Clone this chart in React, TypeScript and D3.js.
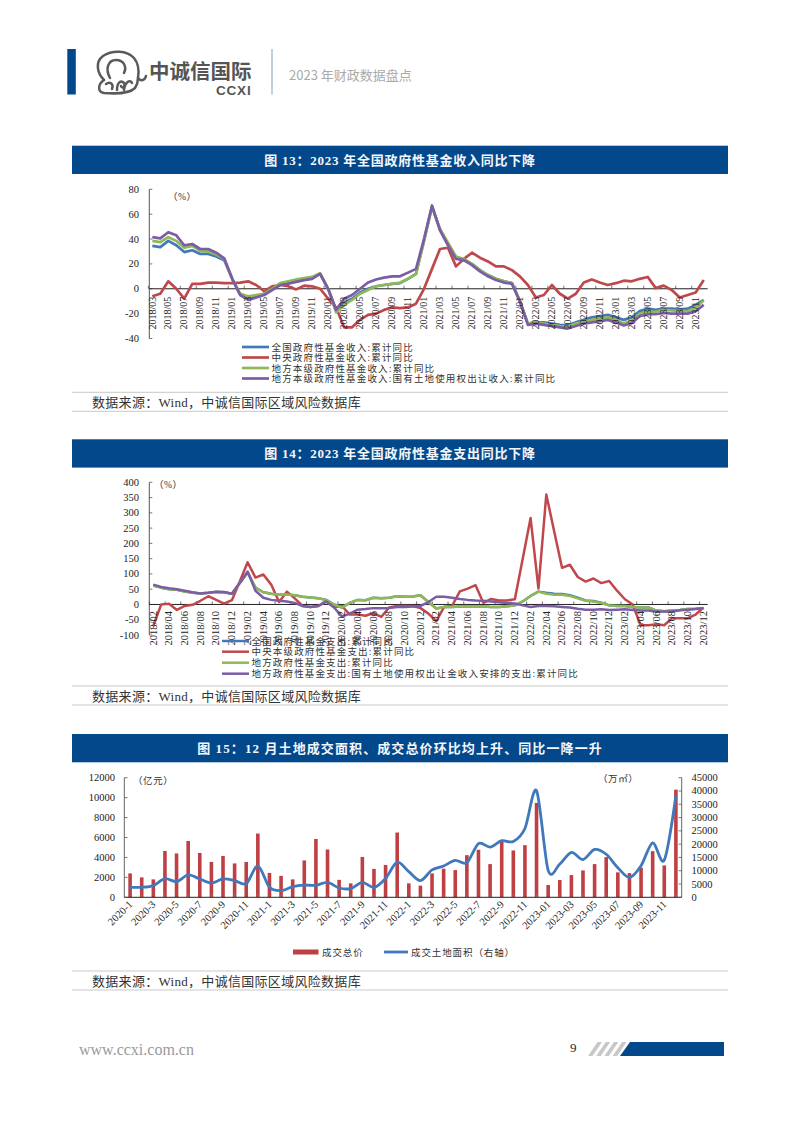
import React from "react";
import * as d3 from "d3";

const months = (sy: number, sm: number, ey: number, em: number, pad = true) => {
  const out: string[] = [];
  for (let y = sy, m = sm; y < ey || (y === ey && m <= em); m === 12 ? (y++, (m = 1)) : m++) {
    out.push(`${y}/${pad && m < 10 ? "0" + m : m}`);
  }
  return out;
};

const c1Cats = months(2018, 3, 2023, 12);
const c1Blue = [
  34.5, 33.5, 38.5, 35, 29.5, 31, 28, 28, 26, 23,
  8, -5, -7, -6, -4, 0, 4, 5, 6.5, 7.5, 9, 12,
  0, -17, -11, -8, -3, 0, 2, 3, 4, 4.5, 8, 12,
  39, 66, 48, 36, 25, 23, 20, 15, 11, 8, 6, 4.5,
  -10, -28, -27, -27, -28, -29, -29.5, -27, -25, -23, -22, -21,
  -23, -25, -23, -18, -16, -17, -16, -16, -16.5, -16, -13, -9,
];
const c1Red = [
  -6, -4, 6, 0, -8, 4, 4, 5, 5, 4.5,
  4.5, 5, 6, 3, -2, 2, 3, 2, -0.5, 2.5, 2, 0,
  -8, -15, -31, -31, -25, -21, -20, -17, -15, -15.5, -15, -12,
  0, 16, 32, 33, 18, 24, 29, 25, 22, 18, 18, 15,
  10, 3, -7, -5, 3, -4, -8, -4, 5, 7.5, 5, 3,
  4.5, 6.5, 6, 8, 9.5, 0.5, 2.5, -1, -7, -5, -3, 7,
];
const c1Green = [
  38.5, 37.5, 41.5, 38.5, 33, 34.5, 30.5, 30, 27.5, 24,
  8, -4, -6, -5, -4, 0, 4.5, 6, 7.5, 8.5, 9.5, 12.5,
  0, -19, -13, -9, -4, -1, 2, 3, 4, 5, 8, 12,
  38, 66, 48, 37, 26, 24, 20, 15, 11, 8, 6, 4.5,
  -10, -28, -27, -28, -29, -30, -30.5, -28, -26.5, -25, -24, -23,
  -25, -28, -25.5, -20, -18.5, -18.5, -17, -17.5, -18, -18, -15, -9.5,
];
const c1Purple = [
  41.5, 40.5, 45.5, 43, 35, 36, 32, 32, 29, 24.5,
  8, -5, -9, -7, -5, -1, 3, 4, 5.5, 7, 8, 12,
  0, -17, -8, -5, 0, 5, 7.5, 9, 10, 10, 13, 16,
  40, 67, 47, 35, 24, 23, 19, 14, 10, 7, 5, 4,
  -10, -29, -28, -29, -30, -31, -32, -30, -28, -27, -26, -25,
  -27, -29.5, -27.5, -22, -20.5, -20.5, -19.5, -20, -20, -20, -18, -13,
];
const c1YTicks = [-40, -20, 0, 20, 40, 60, 80];
const c1Legend = [
  "全国政府性基金收入:累计同比",
  "中央政府性基金收入:累计同比",
  "地方本级政府性基金收入:累计同比",
  "地方本级政府性基金收入:国有土地使用权出让收入:累计同比",
];

const c2Cats = months(2018, 2, 2023, 12);
const c2Blue = [
  62, 55, 50, 48, 42, 38, 36, 38, 41, 40, 35,
  70, 105, 55, 40, 35, 32, 33, 30, 25, 23, 20, 15,
  0, -10, 5, 15, 14, 22, 20, 22, 27, 25, 26, 30,
  8, -13, -8, -8, -7, -7, -7, -7, -8, -8, -6, -3,
  10, 28, 42, 38, 35, 34, 30, 22, 13, 11, 6, -3,
  -5, -5, -8, -10, -10, -20, -22, -20, -18, -15, -14, -12,
];
const c2Red = [
  -70, 0, 2, -18, -5, -1, 12, 27, 15, 3, 14,
  75, 138, 88, 98, 65, 8, 42, 20, -5, -8, -5, 10,
  -8, -5, -33, -33, -37, -28, -41, -10, -5, -5, -5, -12,
  -30, -55, -8, -5, 43, 52, 63, 5, 18, 13, 13, 17,
  150, 283, 52, 360, 240, 120, 130, 90, 75, 85, 70, 77,
  45, 17, 0, -68, -68, -65, -68, -45, -45, -45, -33, -10,
];
const c2Green = [
  62, 55, 50, 48, 42, 38, 36, 38, 41, 40, 35,
  70, 105, 55, 40, 35, 32, 33, 30, 25, 23, 20, 15,
  0, -10, 5, 15, 14, 22, 20, 22, 27, 25, 26, 30,
  8, -13, -8, -8, -7, -7, -7, -7, -8, -8, -6, -3,
  10, 28, 42, 35, 32, 32, 28, 20, 12, 10, 5, -3,
  -5, -5, -8, -10, -10, -20, -22, -20, -18, -15, -14, -12,
];
const c2Purple = [
  65, 57, 53, 50, 45, 40, 36, 38, 42, 41, 35,
  70, 108, 45, 22, 15, 12, 10, 5, -5, -8, -5, 10,
  -10, -40, -30, -17, -15, -12, -12, -12, -8, -8, -7, -5,
  8, 25, 25, 22, 18, 15, 13, 12, 10, 7, 5, 3,
  -3, -8, -5, -5, -6, -8, -10, -14, -17, -17, -16, -18,
  -17, -16, -18, -20, -20, -24, -23, -23, -19, -17, -15, -12,
];
const c2YTicks = [-100, -50, 0, 50, 100, 150, 200, 250, 300, 350, 400];
const c2Legend = [
  "全国政府性基金支出:累计同比",
  "中央本级政府性基金支出:累计同比",
  "地方政府性基金支出:累计同比",
  "地方政府性基金支出:国有土地使用权出让金收入安排的支出:累计同比",
];

const c3Cats = [
  ...months(2020, 1, 2022, 12, false).map((s) => s.replace("/", "-")),
  ...months(2023, 1, 2023, 12).map((s) => s.replace("/", "-")),
];
const c3Bars = [
  2400, 2000, 1800, 4650, 4400, 5650, 4450, 3550, 4150, 3400, 3550, 6400,
  2450, 2150, 1800, 3700, 5850, 4800, 1750, 1400, 4050, 2850, 3250, 6500,
  1400, 1170, 2400, 2870, 2730, 4230, 4770, 3330, 5570, 4700, 5230, 9470,
  1230, 1730, 2230, 2700, 3330, 4030, 2500, 2430, 2970, 4630, 3200, 10800,
];
const c3Line = [
  3760, 3760, 4400, 7000, 5900, 8400, 6900, 5400, 6900, 6300, 5100, 11800,
  3760, 2500, 4000, 4600, 4500, 5600, 3500, 3300, 5600, 3760, 7100, 13200,
  9650, 6300, 10300, 11800, 13900, 13000, 20200, 18900, 21300, 21000, 25900, 40100,
  10150, 12500, 16900, 14200, 18000, 16200, 11150, 7500, 11900, 20500, 14000, 38200,
];
const c3LeftTicks = [0, 2000, 4000, 6000, 8000, 10000, 12000];
const c3RightTicks = [0, 5000, 10000, 15000, 20000, 25000, 30000, 35000, 40000, 45000];

const titles = [
  "图 13\uFF1A2023 年全国政府性基金收入同比下降",
  "图 14\uFF1A2023 年全国政府性基金支出同比下降",
  "图 15\uFF1A12 月土地成交面积、成交总价环比均上升、同比一降一升",
];
const sourceText = "数据来源\uFF1AWind\uFF0C中诚信国际区域风险数据库";
const unitPct = "\uFF08%\uFF09";
const unitLeft = "\uFF08亿元\uFF09";
const unitRight = "\uFF08万㎡\uFF09";
const barLegend = "成交总价";
const lineLegend = "成交土地面积\uFF08右轴\uFF09";

const BLUE = "#4279b8";
const RED = "#c0484c";
const GREEN = "#8fb955";
const PURPLE = "#7b5da6";
const NAVY = "#03488a";
const SERIF = "'Liberation Serif','Noto Sans CJK SC',serif";
const SANS = "'Noto Sans CJK SC','Noto Sans',sans-serif";

function LineChart(p: {
  cats: string[];
  series: number[][];
  yTicks: number[];
  yDomain: [number, number];
  yRange: [number, number];
  xRange: [number, number];
  axisX: [number, number];
  labelBottom: number;
  labelSize: number;
  lineWidth: number;
}) {
  const x = d3.scalePoint<string>().domain(p.cats).range(p.xRange);
  const y = d3.scaleLinear().domain(p.yDomain).range(p.yRange);
  const step = x.step();
  const colors = [BLUE, RED, GREEN, PURPLE];
  const line = d3
    .line<number>()
    .x((_, i) => x(p.cats[i]) as number)
    .y((d) => y(d));
  const labelled = p.cats.filter((_, i) => i % 2 === 0);
  return (
    <g>
      <line x1={p.axisX[0]} x2={p.axisX[0]} y1={y(p.yDomain[1])} y2={y(p.yDomain[0])} stroke="#555" strokeWidth={1} />
      {p.yTicks.map((t) => (
        <g key={t}>
          <line x1={p.axisX[0]} x2={p.axisX[0] + 3} y1={y(t)} y2={y(t)} stroke="#555" strokeWidth={0.8} />
          <text x={139} y={y(t) + 3.5} textAnchor="end" fontSize={10.5} fontFamily={SERIF} fill="#222">
            {t}
          </text>
        </g>
      ))}
      <line x1={p.axisX[0]} x2={p.axisX[1]} y1={y(0)} y2={y(0)} stroke="#222" strokeWidth={1} />
      {labelled.map((c) => (
        <line key={c} x1={(x(c) as number) - step / 2} x2={(x(c) as number) - step / 2} y1={y(0)} y2={y(0) - 3} stroke="#333" strokeWidth={0.7} />
      ))}
      {p.series.map((s, i) => (
        <path key={i} d={line(s) as string} fill="none" stroke={colors[i]} strokeWidth={p.lineWidth} strokeLinejoin="round" />
      ))}
      {labelled.map((c) => (
        <text
          key={c}
          transform={`translate(${(x(c) as number) + 3.2},${p.labelBottom}) rotate(-90)`}
          fontSize={p.labelSize}
          fontFamily={SERIF}
          fill="#222"
        >
          {c}
        </text>
      ))}
    </g>
  );
}

function Legend(p: { items: string[]; x1: number; x2: number; ys: number[]; lw: number }) {
  const colors = [BLUE, RED, GREEN, PURPLE];
  return (
    <g>
      {p.items.map((t, i) => (
        <g key={t}>
          <line x1={p.x1} x2={p.x2} y1={p.ys[i]} y2={p.ys[i]} stroke={colors[i]} strokeWidth={p.lw} />
          <text x={p.x2 + 2.5} y={p.ys[i] + 3.5} fontSize={9.5} letterSpacing={1.16} fontFamily={SERIF} fill="#333">
            {t}
          </text>
        </g>
      ))}
    </g>
  );
}

function ComboChart() {
  const x = d3.scaleBand<string>().domain(c3Cats).range([124.3, 681.7]);
  const yL = d3.scaleLinear().domain([0, 12000]).range([897.3, 777.7]);
  const yR = d3.scaleLinear().domain([0, 45000]).range([897.3, 777.7]);
  const cx = (i: number) => (x(c3Cats[i]) as number) + x.bandwidth() / 2;
  const line = d3
    .line<number>()
    .x((_, i) => cx(i))
    .y((d) => yR(d))
    .curve(d3.curveCardinal.tension(0.1));
  return (
    <g>
      {c3Bars.map((v, i) => (
        <rect key={i} x={cx(i) - 1.8} width={3.6} y={yL(v)} height={yL(0) - yL(v)} fill="#bf4044" />
      ))}
      <path d={line(c3Line) as string} fill="none" stroke="#3f78bb" strokeWidth={2.8} />
      <line x1={124.3} x2={124.3} y1={777.7} y2={897.3} stroke="#555" strokeWidth={0.9} />
      <line x1={681.7} x2={681.7} y1={777.7} y2={897.3} stroke="#555" strokeWidth={0.9} />
      <line x1={124.3} x2={681.7} y1={897.3} y2={897.3} stroke="#222" strokeWidth={1} />
      {c3LeftTicks.map((t) => (
        <g key={t}>
          <line x1={124.3} x2={127.5} y1={yL(t)} y2={yL(t)} stroke="#555" strokeWidth={0.8} />
          <text x={115} y={yL(t) + 3.5} textAnchor="end" fontSize={10.5} fontFamily={SERIF} fill="#222">
            {t}
          </text>
        </g>
      ))}
      {c3RightTicks.map((t) => (
        <g key={t}>
          <line x1={678.5} x2={681.7} y1={yR(t)} y2={yR(t)} stroke="#555" strokeWidth={0.8} />
          <text x={691.5} y={yR(t) + 3.5} fontSize={10.5} fontFamily={SERIF} fill="#222">
            {t}
          </text>
        </g>
      ))}
      {c3Cats.map((c, i) =>
        i % 2 === 0 ? (
          <g key={c}>
            <line x1={(x(c) as number) + x.bandwidth() * 1.5} x2={(x(c) as number) + x.bandwidth() * 1.5} y1={897.3} y2={894.5} stroke="#888" strokeWidth={0.6} />
            <text
              transform={`translate(${cx(i) + 3},${905}) rotate(-45)`}
              textAnchor="end"
              fontSize={10.5}
              fontFamily={SERIF}
              fill="#222"
            >
              {c}
            </text>
          </g>
        ) : null
      )}
      <rect x={293} y={949.5} width={25.5} height={5} fill="#bf4044" />
      <text x={322} y={955.5} fontSize={9.5} letterSpacing={0.9} fontFamily={SERIF} fill="#333">
        {barLegend}
      </text>
      <line x1={384} x2={408} y1={952} y2={952} stroke="#3f78bb" strokeWidth={2.8} />
      <text x={411} y={955.5} fontSize={9.5} letterSpacing={0.9} fontFamily={SERIF} fill="#333">
        {lineLegend}
      </text>
    </g>
  );
}

function Banner(p: { y: number; text: string; spacing: number }) {
  return (
    <g>
      <rect x={72} y={p.y} width={656} height={28.3} fill={NAVY} />
      <text
        x={400}
        y={p.y + 19}
        textAnchor="middle"
        fontSize={13}
        fontWeight={700}
        letterSpacing={p.spacing}
        fontFamily={SERIF}
        fill="#f4f7fb"
      >
        {p.text}
      </text>
    </g>
  );
}

function Source(p: { y: number }) {
  return (
    <g>
      <line x1={72} x2={728} y1={p.y} y2={p.y} stroke="#c9c9c9" strokeWidth={1} />
      <line x1={72} x2={728} y1={p.y + 19} y2={p.y + 19} stroke="#c9c9c9" strokeWidth={1} />
      <text x={92} y={p.y + 14.5} fontSize={13} letterSpacing={0.3} fontFamily={SERIF} fill="#333">
        {sourceText}
      </text>
    </g>
  );
}

function Logo() {
  return (
    <g>
      <g fill="none" stroke="#5a5a5a" strokeWidth={2.5} strokeLinecap="round" strokeLinejoin="round">
        <path d="M104 80 C97 73 95 62 103 56 C112 50 127 50 134 58 C139 64 139 72 138 78 C141 82 145 80 146 76" />
        <path d="M104 80 C98 84 97 92 104 93 C116 94 130 93 135 88 C137 85 138 81 138 78" />
        <path d="M110 78 C105 69 108 60 116 60 C124 60 127 67 124 73" />
        <path d="M106 84 C110 81 114 84 112 89" />
        <path d="M117 90 C117 82 121 80 124 83 C126 87 122 89 121 86" />
        <path d="M124 90 C125 82 130 79 132 83" />
      </g>
      <text x={149} y={78.5} fontSize={20.5} fontWeight={700} fontFamily={SANS} fill="#555">
        中诚信国际
      </text>
      <text x={216} y={94.5} fontSize={13.5} fontWeight={700} letterSpacing={0.8} fontFamily="'Liberation Sans',sans-serif" fill="#555">
        CCXI
      </text>
    </g>
  );
}

export default function App() {
  return (
    <svg width={802} height={1133} style={{ position: "absolute", left: 0, top: 0, background: "#fff" }}>
      <rect x={67.3} y={49} width={8.5} height={45.5} fill={NAVY} />
      <Logo />
      <line x1={272} x2={272} y1={49} y2={94.5} stroke="#a9bccd" strokeWidth={1.4} />
      <text x={289} y={80} fontSize={13} fontFamily={SANS} fill="#aaa">
        2023 年财政数据盘点
      </text>

      <Banner y={145.7} text={titles[0]} spacing={0.75} />
      <text x={168} y={200} fontSize={9.5} letterSpacing={0.5} fontFamily={SERIF} fill="#333">
        {unitPct}
      </text>
      <LineChart
        cats={c1Cats}
        series={[c1Blue, c1Red, c1Green, c1Purple]}
        yTicks={c1YTicks}
        yDomain={[-40, 80]}
        yRange={[338.5, 189.3]}
        xRange={[152.3, 703.7]}
        axisX={[149.3, 707.7]}
        labelBottom={329.5}
        labelSize={10}
        lineWidth={2.7}
      />
      <Legend items={c1Legend} x1={242} x2={269} ys={[347, 357.5, 368, 378.5]} lw={2.7} />
      <Source y={392.3} />

      <Banner y={439.3} text={titles[1]} spacing={0.75} />
      <text x={154} y={488} fontSize={9.5} letterSpacing={0.5} fontFamily={SERIF} fill="#333">
        {unitPct}
      </text>
      <LineChart
        cats={c2Cats}
        series={[c2Blue, c2Red, c2Green, c2Purple]}
        yTicks={c2YTicks}
        yDomain={[-100, 400]}
        yRange={[635, 482.3]}
        xRange={[153.3, 703.5]}
        axisX={[149.3, 707.7]}
        labelBottom={645.5}
        labelSize={10.5}
        lineWidth={2.5}
      />
      <Legend items={c2Legend} x1={222} x2={249} ys={[641, 651.7, 662.7, 673.7]} lw={2.5} />
      <Source y={686} />

      <Banner y={734} text={titles[2]} spacing={1.1} />
      <text x={133} y={784} fontSize={9.5} letterSpacing={0.6} fontFamily={SERIF} fill="#333">
        {unitLeft}
      </text>
      <text x={598} y={782} fontSize={9.5} letterSpacing={0.6} fontFamily={SERIF} fill="#333">
        {unitRight}
      </text>
      <ComboChart />
      <Source y={971} />

      <text x={79} y={1055} fontSize={16} fontFamily={SERIF} fill="#9a9a9a">
        www.ccxi.com.cn
      </text>
      <text x={570} y={1052} fontSize={13} fontFamily={SERIF} fill="#222">
        9
      </text>
      {[0, 1, 2, 3].map((i) => (
        <polygon
          key={i}
          points={`${588 + i * 8.2},1056 ${592.5 + i * 8.2},1056 ${602 + i * 8.2},1042 ${597.5 + i * 8.2},1042`}
          fill="#c8c8c8"
        />
      ))}
      <polygon points="620,1056 724,1056 724,1042 630,1042" fill={NAVY} />
    </svg>
  );
}
